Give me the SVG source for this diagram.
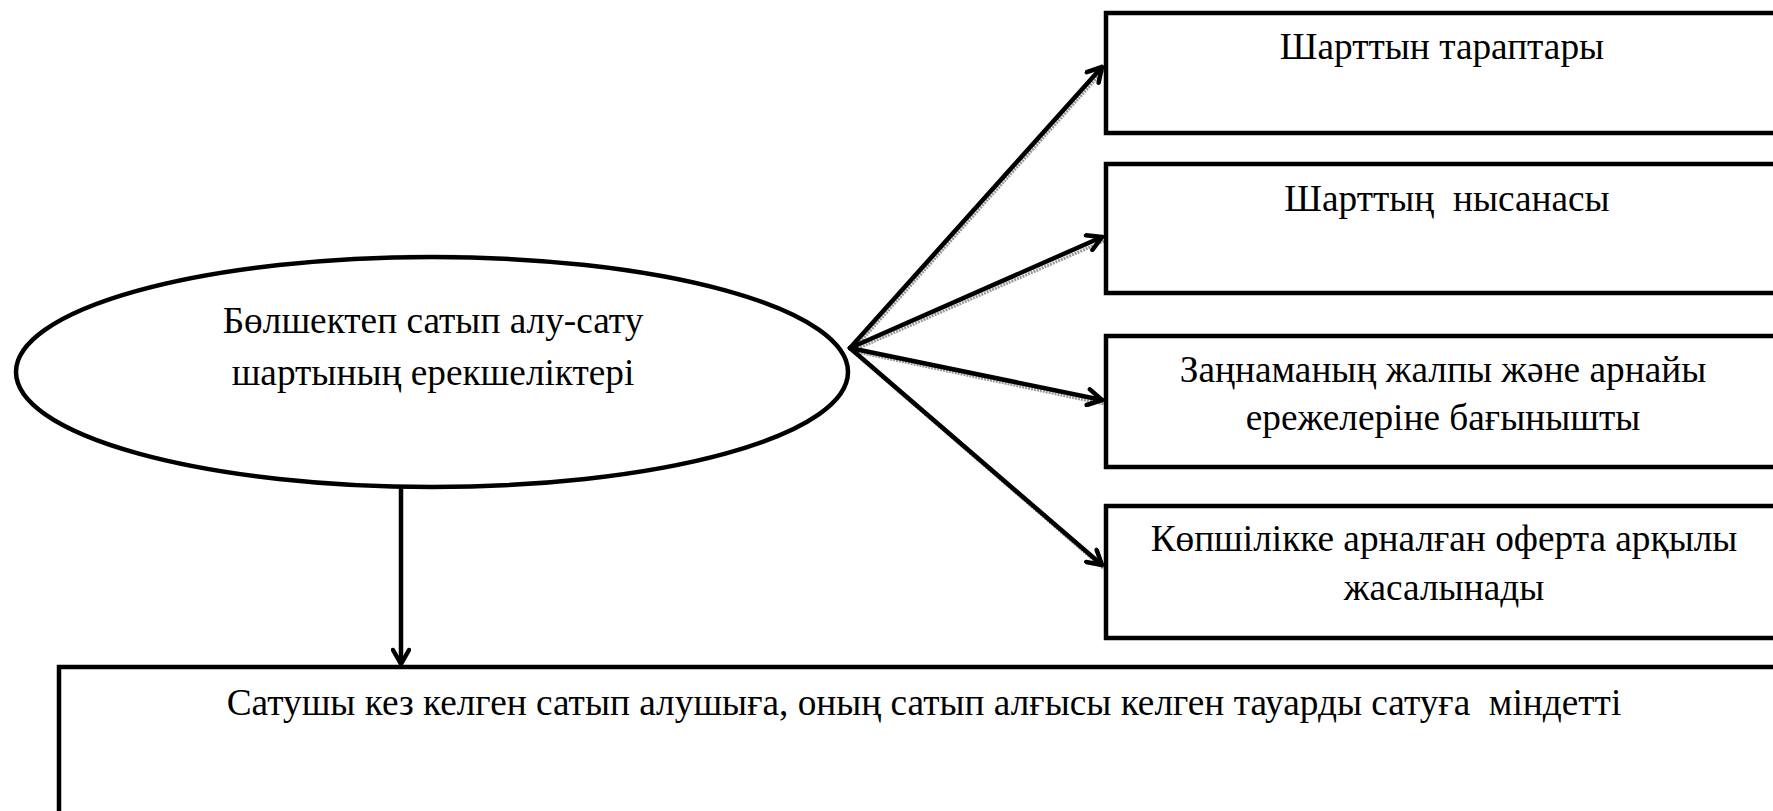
<svg xmlns="http://www.w3.org/2000/svg" width="1773" height="811" viewBox="0 0 1773 811">
<defs>
<marker id="ah" viewBox="0 0 20 20" refX="18" refY="10" markerWidth="20" markerHeight="20" markerUnits="userSpaceOnUse" orient="auto">
<path d="M4,2 L18,10 L4,18" fill="none" stroke="#000" stroke-width="4.5" stroke-linecap="round" stroke-linejoin="round"/>
</marker>
</defs>
<style>
.box{fill:#fff;stroke:#000;stroke-width:4.5}
.t{font-family:"Liberation Serif","Times New Roman",serif;font-size:37.3px;fill:#000;text-anchor:middle;white-space:pre}
.c{stroke:#000;stroke-width:4.5;fill:none;stroke-linecap:round}
.s{stroke:#999;stroke-width:3;fill:none;stroke-dasharray:2 1}
</style>
<rect width="1773" height="811" fill="#fff"/>
<g id="connectors">
<line class="s" x1="852" y1="351" x2="1104" y2="70"/>
<line class="s" x1="852" y1="351" x2="1104" y2="241"/>
<line class="s" x1="852" y1="351" x2="1104" y2="404"/>
<line class="s" x1="852" y1="351" x2="1104" y2="569"/>
<line class="c" x1="850" y1="348" x2="1102" y2="67" marker-end="url(#ah)"/>
<line class="c" x1="850" y1="348" x2="1102" y2="237" marker-end="url(#ah)"/>
<line class="c" x1="850" y1="348" x2="1102" y2="400" marker-end="url(#ah)"/>
<line class="c" x1="850" y1="348" x2="1102" y2="565" marker-end="url(#ah)"/>
<line class="c" x1="401" y1="487" x2="401" y2="664" marker-end="url(#ah)"/>
</g>
<g id="ellipse-node">
<ellipse cx="432" cy="372" rx="416" ry="115" fill="#fff" stroke="#000" stroke-width="4.5"/>
<text class="t" x="433" y="333">Бөлшектеп сатып алу-сату</text>
<text class="t" x="433" y="385">шартының ерекшеліктері</text>
</g>
<g id="box1">
<rect class="box" x="1106" y="13" width="800" height="120"/>
<text class="t" x="1442" y="59">Шарттын тараптары</text>
</g>
<g id="box2">
<rect class="box" x="1106" y="164" width="800" height="129"/>
<text class="t" x="1447" y="211" xml:space="preserve">Шарттың  нысанасы</text>
</g>
<g id="box3">
<rect class="box" x="1106" y="336" width="800" height="131"/>
<text class="t" x="1443" y="382">Заңнаманың жалпы және арнайы</text>
<text class="t" x="1443" y="430">ережелеріне бағынышты</text>
</g>
<g id="box4">
<rect class="box" x="1106" y="506" width="800" height="132"/>
<text class="t" x="1444" y="551">Көпшілікке арналған оферта арқылы</text>
<text class="t" x="1444" y="600">жасалынады</text>
</g>
<g id="box5">
<rect class="box" x="59" y="667" width="1800" height="200"/>
<text class="t" x="924" y="715" xml:space="preserve">Сатушы кез келген сатып алушыға, оның сатып алғысы келген тауарды сатуға  міндетті</text>
</g>
</svg>
